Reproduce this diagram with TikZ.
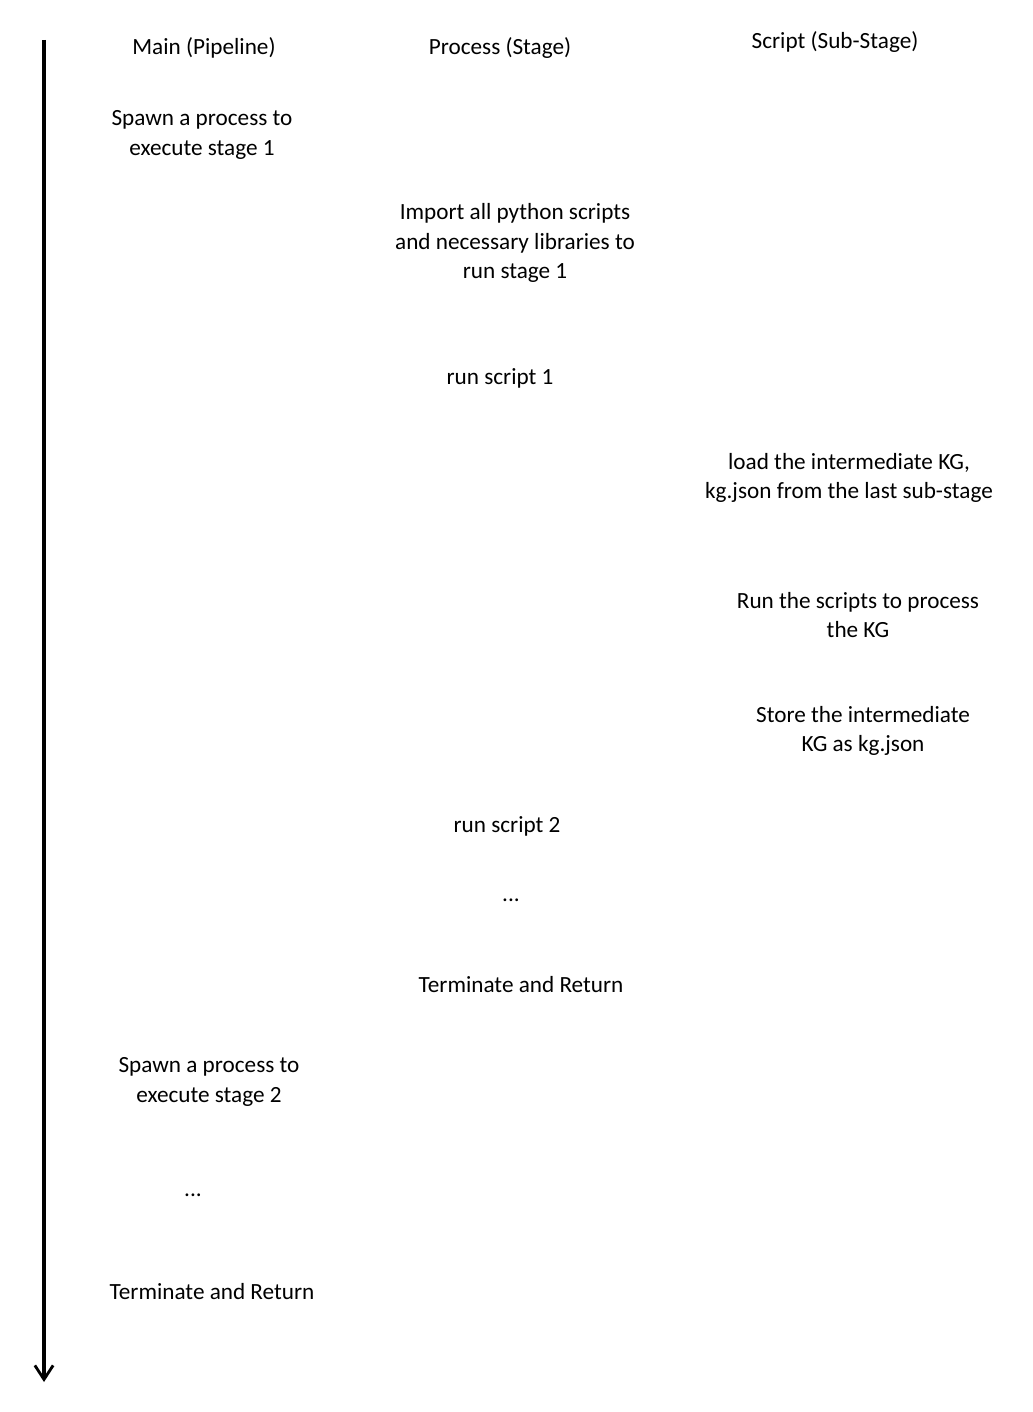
\documentclass[tikz,border=0pt]{standalone}
\usepackage{fontspec}
\setmainfont{Carlito}
\usetikzlibrary{arrows.meta}

\begin{document}
\begin{tikzpicture}[
  x=0.025cm, y=-0.025cm,
  step text/.style={align=center, inner sep=0pt, yshift=-1.4pt,
                    font=\fontsize{16.5}{20.8pt}\selectfont},
  lane/.style={step text},
  timeline/.style={-{Straight Barb[length=10pt, width=13pt, line width=2pt]},
                   line width=2.2pt},
]
\useasboundingbox (0,0) rectangle (1032,1412);

% --- Lane headings ---
\node[lane] (hmain) at (204,46) {Main (Pipeline)};
\node[lane] (hproc) at (500,46) {Process (Stage)};
\node[lane] (hscript) at (835,40) {Script (Sub-Stage)};

% --- Main (pipeline) steps ---
\node[step text] (spawn1) at (202,133) {Spawn a process to\\execute stage 1};
\node[step text] (spawn2) at (209,1080) {Spawn a process to\\execute stage 2};
\node[step text] (mdots) at (193,1193) {...};
\node[step text] (mend) at (212,1290) {Terminate and Return};

% --- Process (stage) steps ---
\node[step text] (import) at (515,241) {Import all python scripts\\and necessary libraries to\\run stage 1};
\node[step text] (run1) at (500,376) {run script 1};
\node[step text] (run2) at (507,824) {run script 2};
\node[step text] (pdots) at (511,898) {...};
\node[step text] (pend) at (521,983) {Terminate and Return};

% --- Script (sub-stage) steps ---
\node[step text] (load) at (849,476) {load the intermediate KG,\\kg.json from the last sub-stage};
\node[step text] (runkg) at (858,613) {Run the scripts to process\\the KG};
\node[step text] (store) at (863,729) {Store the intermediate\\KG as kg.json};

% --- Time axis ---
\coordinate (tstart) at (44,40);
\coordinate (tend) at (44,1382);
\draw[timeline] (tstart) -- (tend);
\end{tikzpicture}
\end{document}
